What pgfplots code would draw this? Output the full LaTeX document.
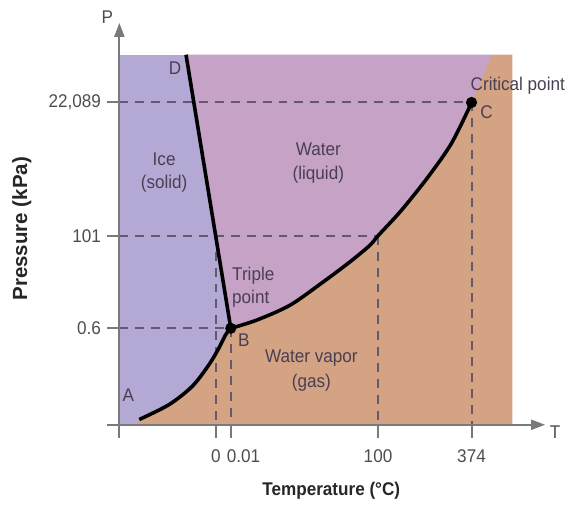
\documentclass[border=0pt]{standalone}
\usepackage{pgfplots}
\pgfplotsset{compat=1.18}
\usepackage{fontspec}
\setmainfont{Liberation Sans}[FakeStretch=0.93]
\newfontfamily\plainsans{Liberation Sans}
\usetikzlibrary{arrows.meta}
\definecolor{icecol}{HTML}{B4A8D4}
\definecolor{liqcol}{HTML}{C5A2C6}
\definecolor{vapcol}{HTML}{D4A384}
\definecolor{textcol}{HTML}{4A3F52}
\definecolor{tickcol}{HTML}{4D4D4D}
\definecolor{axiscol}{HTML}{7A7A7A}
\definecolor{dashcol}{HTML}{625A6C}
\begin{document}
\fontsize{9.25pt}{11pt}\selectfont
\begin{tikzpicture}
\begin{axis}[
  x=0.5pt, y=0.5pt,
  xmin=-12, xmax=428, ymin=-13, ymax=404,
  axis line style={draw=none},
  major tick style={draw=none},
  xtick={97,112,260,354},
  xticklabels={0,{\rlap{\kern-2pt 0.01}},100,374},
  ytick={97,190,324},
  yticklabels={0.6,101,{22,089}},
  tick label style={text=tickcol},
  xticklabel style={yshift=-2.5pt},
  clip=false,
  /pgf/number format/assume math mode=true,
]
% phase regions
\addplot[draw=none, fill=icecol] coordinates {(0,0) (395,0) (395,372) (0,372)} -- cycle;
\addplot[draw=none, fill=liqcol] coordinates {(67,372) (112,97) (138.3,105.3) (171.7,120.3) (205,143.7) (231.7,163.7) (251.7,180.3) (260,190) (283.3,215.3) (310,248.7) (333.3,282) (351.7,318.7) (354,324) (375,372)} -- cycle;
\addplot[draw=none, fill=vapcol] coordinates {(18,0) (20,5.3) (50,20.3) (73.3,38.7) (90,60.3) (100,77) (106.7,90.3) (112,97) (138.3,105.3) (171.7,120.3) (205,143.7) (231.7,163.7) (251.7,180.3) (260,190) (283.3,215.3) (310,248.7) (333.3,282) (351.7,318.7) (354,324) (375,372) (395,372) (395,0)} -- cycle;
% dashed guide lines
\addplot[dashcol, line width=1pt, dash pattern=on 4.5pt off 3.5pt] coordinates {(0,324) (354,324)};
\addplot[dashcol, line width=1pt, dash pattern=on 4.5pt off 3.5pt] coordinates {(0,190) (260,190)};
\addplot[dashcol, line width=1pt, dash pattern=on 4.5pt off 3.5pt] coordinates {(0,97) (112,97)};
\addplot[dashcol, line width=1pt, dash pattern=on 4.5pt off 3.5pt] coordinates {(97,190) (97,0)};
\addplot[dashcol, line width=1pt, dash pattern=on 4.5pt off 3.5pt] coordinates {(112,97) (112,0)};
\addplot[dashcol, line width=1pt, dash pattern=on 4.5pt off 3.5pt] coordinates {(260,190) (260,0)};
\addplot[dashcol, line width=1pt, dash pattern=on 4.5pt off 3.5pt] coordinates {(354,324) (354,0)};
% axes
\draw[axiscol, line width=1pt, -{Triangle[length=7pt,width=5pt]}] (axis cs:-12,0) -- (axis cs:428,0);
\draw[axiscol, line width=1pt, -{Triangle[length=7pt,width=5pt]}] (axis cs:0,-13) -- (axis cs:0,404);
\draw[axiscol, line width=1pt] (axis cs:97,0) -- (axis cs:97,-13);
\draw[axiscol, line width=1pt] (axis cs:112,0) -- (axis cs:112,-13);
\draw[axiscol, line width=1pt] (axis cs:260,0) -- (axis cs:260,-13);
\draw[axiscol, line width=1pt] (axis cs:354,0) -- (axis cs:354,-13);
\draw[axiscol, line width=1pt] (axis cs:0,97) -- (axis cs:-12,97);
\draw[axiscol, line width=1pt] (axis cs:0,190) -- (axis cs:-12,190);
\draw[axiscol, line width=1pt] (axis cs:0,324) -- (axis cs:-12,324);
% phase boundaries
\addplot[black, line width=1.8pt] coordinates {(67,372) (112,97)};
\addplot[black, line width=1.8pt, smooth] coordinates {(20,5.3) (50,20.3) (73.3,38.7) (90,60.3) (100,77) (106.7,90.3) (112,97)};
\addplot[black, line width=1.8pt, smooth] coordinates {(112,97) (138.3,105.3) (171.7,120.3) (205,143.7) (231.7,163.7) (251.7,180.3) (260,190) (283.3,215.3) (310,248.7) (333.3,282) (351.7,318.7) (354,324)};
\addplot[only marks, mark=*, mark size=2.6pt, black] coordinates {(112,97) (354,324)};
% labels
\node[text=textcol] at (axis cs:56,358) {D};
\node[text=textcol] at (axis cs:45,267) {Ice};
\node[text=textcol] at (axis cs:45,242) {(solid)};
\node[text=textcol] at (axis cs:200,277) {Water};
\node[text=textcol] at (axis cs:200,251) {(liquid)};
\node[text=textcol, anchor=west, inner sep=0pt] at (axis cs:113,150) {Triple};
\node[text=textcol, anchor=west, inner sep=0pt] at (axis cs:113,127) {point};
\node[text=textcol] at (axis cs:125,85) {B};
\node[text=textcol] at (axis cs:193,67) {Water vapor};
\node[text=textcol] at (axis cs:193,42) {(gas)};
\node[text=textcol] at (axis cs:9,30) {A};
\node[text=textcol] at (axis cs:400.5,341) {Critical point};
\node[text=textcol] at (axis cs:369,314) {C};
\node[text=tickcol] at (axis cs:-12,410) {P};
\node[text=tickcol] at (axis cs:438,-7) {T};
\node[text=black!85, font=\bfseries] at (axis cs:213,-66) {Temperature (°C)};
\node[text=black!85, rotate=90, font=\plainsans\bfseries\fontsize{10.3pt}{12pt}\selectfont] at (axis cs:-98,197) {Pressure (kPa)};
\path (axis cs:-120,-74) rectangle (axis cs:451,427);
\end{axis}
\end{tikzpicture}
\end{document}
